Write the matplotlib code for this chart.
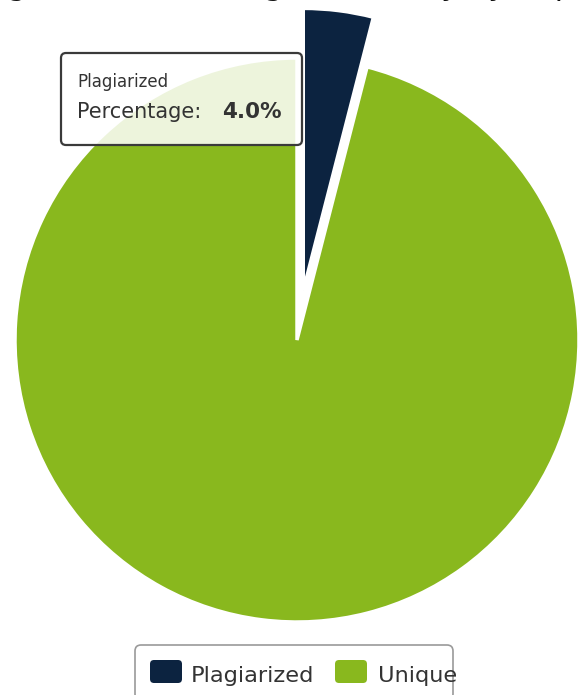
import matplotlib
matplotlib.use("Agg")
import matplotlib.pyplot as plt
from matplotlib.patches import FancyBboxPatch, Rectangle

# ---- data ----
categories = ["Plagiarized", "Unique"]
values = [4.0, 96.0]
colors = ["#0c2340", "#89b81e"]
tooltip_name = "Plagiarized"
tooltip_label = "Percentage:"
tooltip_value = "4.0%"
title_text = "Plagiarism Percentage Summary by Report"

W, H = 579, 695
fig = plt.figure(figsize=(W / 100, H / 100), dpi=100)
ax = fig.add_axes([0, 0, 1, 1])

def Y(ypx):
    return H - ypx

# pie
cx, cy, r = 297, 340, 282
wedges, _ = ax.pie(values, colors=colors, startangle=90, counterclock=False,
                   explode=[50, 0], radius=r, center=(cx, Y(cy)),
                   wedgeprops=dict(edgecolor="white", linewidth=2.5),
                   frame=True)
clip = Rectangle((0, 0), W, Y(10), transform=ax.transData)
for w in wedges:
    w.set_clip_path(clip)
ax.set_xlim(0, W)
ax.set_ylim(0, H)
ax.set_aspect("auto")
ax.axis("off")

# clipped title at top (only descenders visible, as in the reference)
fig.text(0.5, 1 + 5.0 / H, title_text, ha="center", va="baseline",
         fontsize=22, color="#111111")

# tooltip
tip = FancyBboxPatch((61, Y(145)), 241, 92,
                     boxstyle="round,pad=0,rounding_size=5",
                     facecolor="white", alpha=0.85, edgecolor="none", zorder=5)
ax.add_patch(tip)
tip_b = FancyBboxPatch((61, Y(145)), 241, 92,
                       boxstyle="round,pad=0,rounding_size=5",
                       facecolor="none", edgecolor="#3a3a3a", linewidth=1.6, zorder=6)
ax.add_patch(tip_b)
ax.text(77, Y(87), tooltip_name, fontsize=12, color="#333333", va="baseline", zorder=7)
ax.text(77, Y(118), tooltip_label, fontsize=15, color="#333333", va="baseline", zorder=7)
ax.text(222, Y(118), tooltip_value, fontsize=15.5, color="#333333", fontweight="bold",
        va="baseline", zorder=7)

# legend
leg = FancyBboxPatch((135, Y(700)), 318, 55,
                     boxstyle="round,pad=0,rounding_size=6",
                     facecolor="white", edgecolor="#9a9a9a", linewidth=1.2, zorder=5)
ax.add_patch(leg)
sw_x = [150, 335]
tx_x = [191, 378]
for i, cat in enumerate(categories):
    ax.add_patch(FancyBboxPatch((sw_x[i], Y(683)), 32, 23,
                                boxstyle="round,pad=0,rounding_size=4",
                                facecolor=colors[i], edgecolor="none", zorder=6))
    ax.text(tx_x[i], Y(682), cat, fontsize=16.2, color="#333333",
            va="baseline", zorder=7)

fig.savefig("out.png", dpi=100)
